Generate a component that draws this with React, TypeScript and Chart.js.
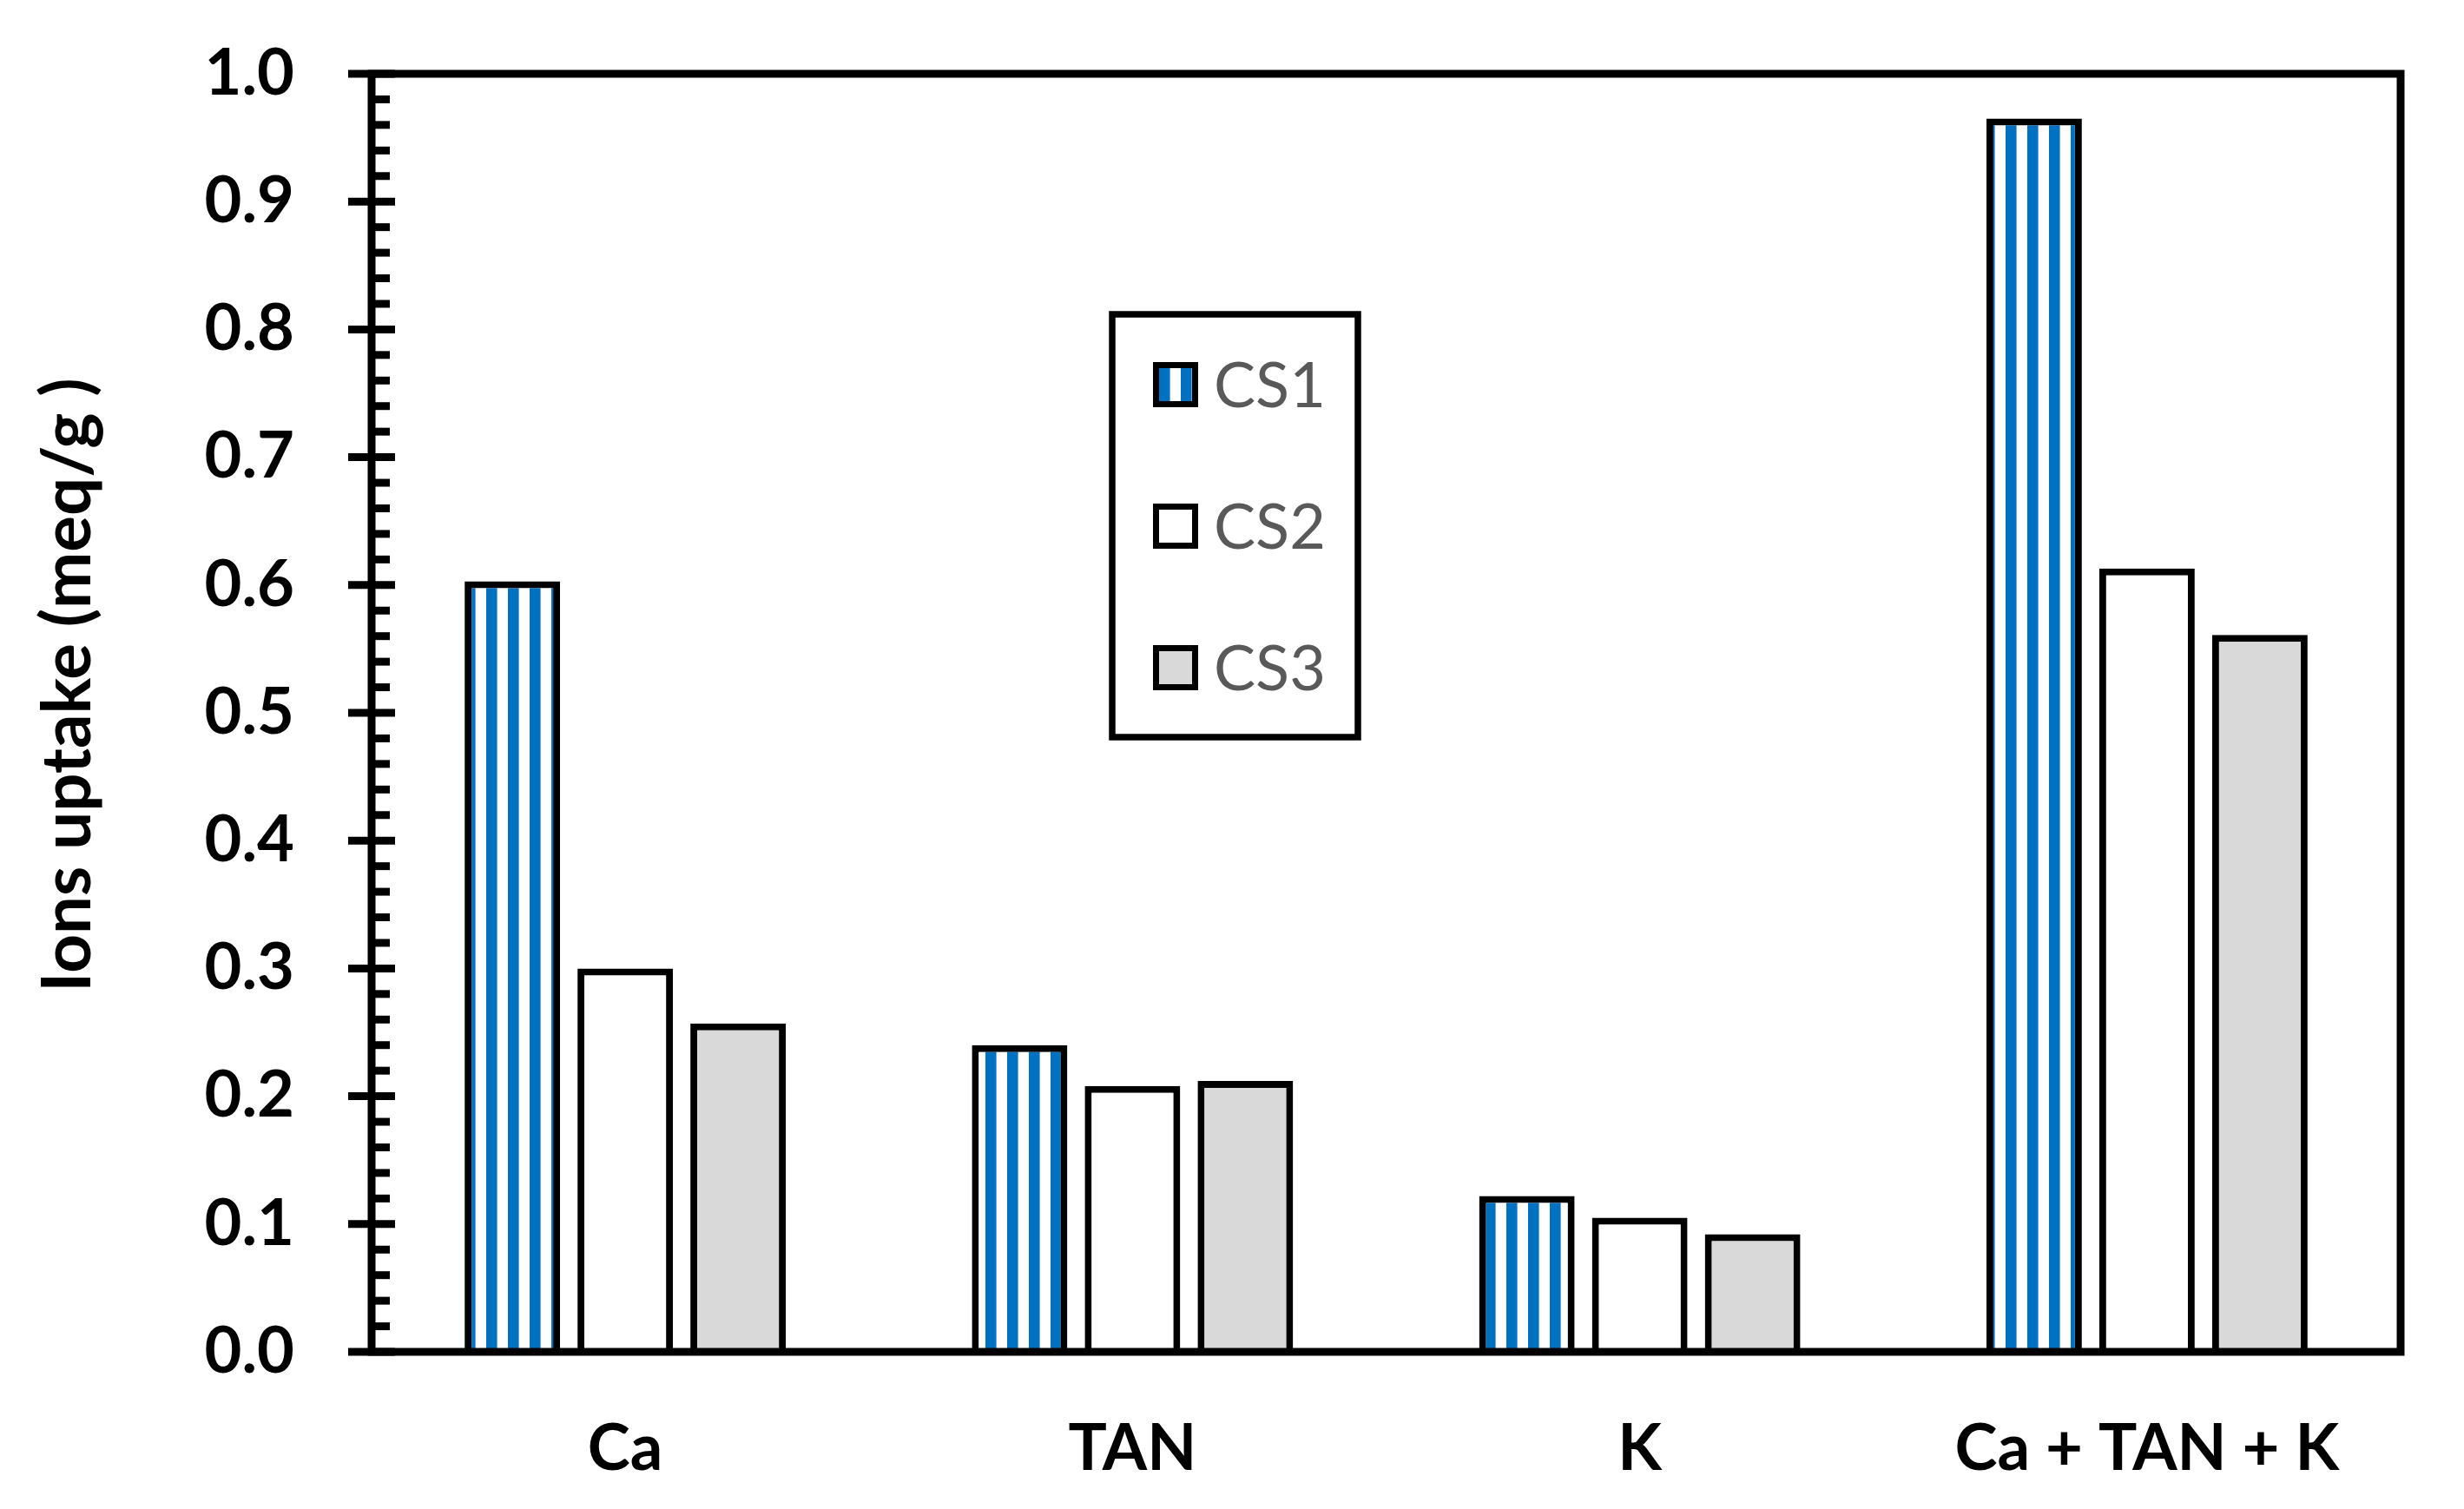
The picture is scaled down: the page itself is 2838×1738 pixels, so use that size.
import { useEffect, useRef } from "react";
import { Chart, registerables } from "chart.js";

Chart.register(...registerables);

const categories = ["Ca", "TAN", "K", "Ca + TAN + K"];
const seriesNames = ["CS1", "CS2", "CS3"];
const cs1Values = [0.603, 0.24, 0.122, 0.965];
const cs2Values = [0.3, 0.208, 0.105, 0.613];
const cs3Values = [0.257, 0.212, 0.092, 0.561];
const yTickLabels = ["0.0", "0.1", "0.2", "0.3", "0.4", "0.5", "0.6", "0.7", "0.8", "0.9", "1.0"];
const yAxisTitle = "Ions uptake (meq/g )";

const FONT = "Lato";

function makeStripePattern(): CanvasPattern | string {
  const tile = document.createElement("canvas");
  tile.width = 25;
  tile.height = 25;
  const t = tile.getContext("2d");
  if (!t) return "#0070C0";
  t.fillStyle = "#FFFFFF";
  t.fillRect(0, 0, 25, 25);
  t.fillStyle = "#0070C0";
  t.fillRect(10, 0, 12, 25);
  t.fillStyle = "#6FA8DC";
  t.fillRect(22, 0, 1, 25);
  const p = t.createPattern(tile, "repeat");
  return p || "#0070C0";
}

export default function App() {
  const canvasRef = useRef<HTMLCanvasElement | null>(null);

  useEffect(() => {
    const canvas = canvasRef.current;
    if (!canvas) return;
    const stripes = makeStripePattern();
    const fills = [stripes, "#FFFFFF", "#D9D9D9"];

    const decor = {
      id: "decor",
      afterDatasetsDraw(chart: any) {
        const { ctx, chartArea: ca, scales } = chart;
        const y = scales.y;
        ctx.save();
        ctx.strokeStyle = "#000000";
        ctx.lineWidth = 9;
        ctx.lineCap = "butt";
        ctx.strokeRect(ca.left, ca.top, ca.right - ca.left, ca.bottom - ca.top);
        for (let i = 0; i <= 50; i++) {
          const v = i / 50;
          const py = y.getPixelForValue(v);
          ctx.beginPath();
          if (i % 5 === 0) {
            ctx.moveTo(ca.left - 27, py);
            ctx.lineTo(ca.left + 27, py);
          } else {
            ctx.moveTo(ca.left, py);
            ctx.lineTo(ca.left + 21, py);
          }
          ctx.lineWidth = 9;
          ctx.stroke();
        }
        ctx.restore();
      },
      afterDraw(chart: any) {
        const { ctx, chartArea: ca } = chart;
        ctx.save();
        // y axis title
        ctx.translate(104, (ca.top + ca.bottom) / 2 - 32);
        ctx.rotate(-Math.PI / 2);
        ctx.font = `bold 78px ${FONT}`;
        ctx.fillStyle = "#000000";
        ctx.textAlign = "center";
        ctx.textBaseline = "alphabetic";
        ctx.fillText(yAxisTitle, 0, 0);
        ctx.restore();

        // legend
        ctx.save();
        const bx = ca.left + 853;
        const by = ca.top + 277;
        const bw = 283;
        const bh = 487;
        ctx.fillStyle = "#FFFFFF";
        ctx.fillRect(bx, by, bw, bh);
        ctx.strokeStyle = "#000000";
        ctx.lineWidth = 7.5;
        ctx.strokeRect(bx, by, bw, bh);
        const offsets = [81, 244, 407];
        chart.data.datasets.forEach((ds: any, i: number) => {
          const cy = by + offsets[i];
          const sx = bx + 47;
          const sz = 52;
          ctx.fillStyle = ds.backgroundColor;
          ctx.fillRect(sx, cy - sz / 2, sz, sz);
          ctx.lineWidth = 7;
          ctx.strokeStyle = "#000000";
          ctx.strokeRect(sx + 3.5, cy - sz / 2 + 3.5, sz - 7, sz - 7);
          ctx.font = `72px ${FONT}`;
          ctx.fillStyle = "#595959";
          ctx.textAlign = "left";
          ctx.textBaseline = "alphabetic";
          ctx.fillText(ds.label, bx + 117, cy + 26);
        });
        ctx.restore();
      },
    };

    const chart = new Chart(canvas, {
      type: "bar",
      data: {
        labels: categories,
        datasets: [cs1Values, cs2Values, cs3Values].map((vals, i) => ({
          label: seriesNames[i],
          data: vals,
          backgroundColor: fills[i] as any,
          borderColor: "#000000",
          borderWidth: 8,
          categoryPercentage: 0.6675,
          barPercentage: 0.846,
        })),
      },
      options: {
        responsive: false,
        animation: false,
        layout: { padding: { top: 85, right: 73, left: 0, bottom: 0 } },
        plugins: {
          legend: { display: false },
          tooltip: { enabled: false },
        },
        scales: {
          x: {
            grid: { display: false },
            border: { display: false },
            ticks: {
              padding: 60,
              color: "#000000",
              font: { family: FONT, size: 74, weight: "bold" },
            },
            afterFit: (s: any) => {
              s.height = 181;
              s.paddingLeft = 0;
              s.paddingRight = 0;
            },
          },
          y: {
            min: 0,
            max: 1,
            grid: { display: false },
            border: { display: false },
            ticks: {
              stepSize: 0.1,
              padding: 81,
              color: "#000000",
              font: { family: FONT, size: 74, weight: "bold" },
              callback: (_v: any, idx: number) => yTickLabels[idx],
            },
            afterFit: (s: any) => {
              s.width = 428;
              s.paddingTop = 0;
              s.paddingBottom = 0;
            },
          },
        },
      },
      plugins: [decor],
    });
    return () => chart.destroy();
  }, []);

  return (
    <div style={{ position: "fixed", left: 0, top: 0, width: 2838, height: 1738, background: "#FFFFFF" }}>
      <canvas ref={canvasRef} width={2838} height={1738} style={{ display: "block" }} />
    </div>
  );
}
